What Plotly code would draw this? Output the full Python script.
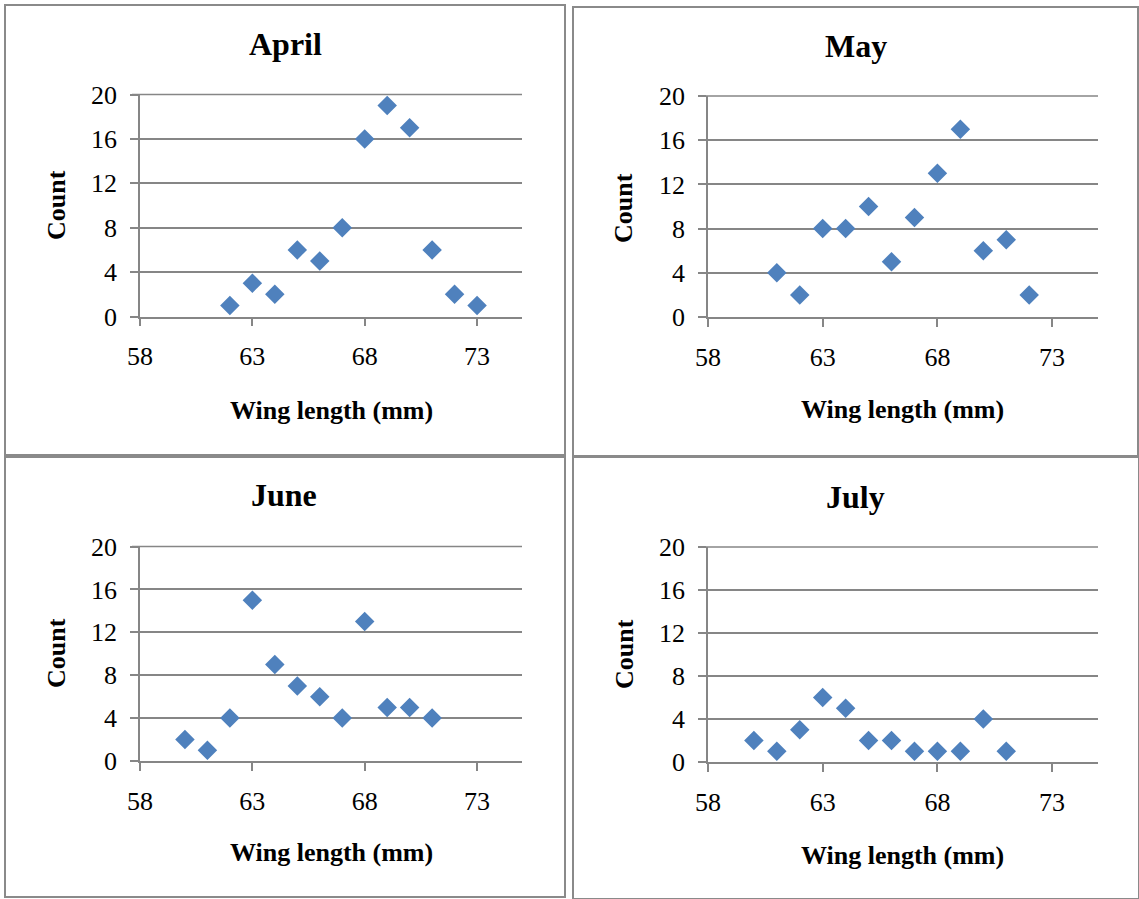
import plotly.graph_objects as go

# Wing length classes (mm) and bird counts per month
april_length = [62, 63, 64, 65, 66, 67, 68, 69, 70, 71, 72, 73]
april_count = [1, 3, 2, 6, 5, 8, 16, 19, 17, 6, 2, 1]

may_length = [61, 62, 63, 64, 65, 66, 67, 68, 69, 70, 71, 72]
may_count = [4, 2, 8, 8, 10, 5, 9, 13, 17, 6, 7, 2]

june_length = [60, 61, 62, 63, 64, 65, 66, 67, 68, 69, 70, 71]
june_count = [2, 1, 4, 15, 9, 7, 6, 4, 13, 5, 5, 4]

july_length = [60, 61, 62, 63, 64, 65, 66, 67, 68, 69, 70, 71]
july_count = [2, 1, 3, 6, 5, 2, 2, 1, 1, 1, 4, 1]

months = ["April", "May", "June", "July"]
x_title = "Wing length (mm)"
y_title = "Count"

W, H = 1139, 899
FONT = "Liberation Serif"
GRID = "#868686"
BLUE = "#4F81BD"


def px(x):
    return x / W


def py(y):
    return 1 - y / H


# Pixel layout of each panel: plot box (left, right, top, bottom),
# frame box, title / axis-title centres
panel_geo = [
    dict(plot=(140, 522, 94.5, 316.5), frame=(5, 565, 5, 455),
         title=(285, 44), ytitle=(56, 205), xtitle=(331, 410)),
    dict(plot=(708, 1098, 96, 317), frame=(573, 1138, 7, 456),
         title=(856, 46), ytitle=(624, 208), xtitle=(902, 409)),
    dict(plot=(140, 522, 546.5, 761), frame=(5, 565, 457, 897),
         title=(284, 495), ytitle=(56, 653), xtitle=(331, 852)),
    dict(plot=(708, 1098, 547, 762), frame=(573, 1139, 457, 899),
         title=(855, 497), ytitle=(624, 654), xtitle=(902, 855)),
]

series = [
    (april_length, april_count),
    (may_length, may_count),
    (june_length, june_count),
    (july_length, july_count),
]

fig = go.Figure()
layout = dict(
    template="none",
    width=W, height=H, autosize=False,
    margin=dict(l=0, r=0, t=0, b=0, pad=0),
    paper_bgcolor="white", plot_bgcolor="white",
    showlegend=False,
    font=dict(family=FONT, color="black", size=26),
    annotations=[], shapes=[],
)

for i, (month, (xs, ys), g) in enumerate(zip(months, series, panel_geo)):
    n = "" if i == 0 else str(i + 1)
    fig.add_trace(go.Scatter(
        x=xs, y=ys, mode="markers",
        marker=dict(symbol="diamond", size=15, color=BLUE, line=dict(width=0)),
        xaxis="x" + n, yaxis="y" + n, cliponaxis=False,
    ))
    l, r, t, b = g["plot"]
    layout["xaxis" + n] = dict(
        domain=[px(l), px(r)], anchor="y" + n, automargin=False,
        range=[58, 75], tick0=58, dtick=5, tickmode="linear",
        showgrid=False, zeroline=False,
        showline=True, linecolor=GRID, linewidth=1.5,
        ticks="outside", ticklen=8, tickwidth=1.5, tickcolor=GRID,
        tickfont=dict(family=FONT, size=26, color="black"),
        ticklabelstandoff=8, fixedrange=True,
    )
    layout["yaxis" + n] = dict(
        domain=[py(b), py(t)], anchor="x" + n, automargin=False,
        range=[0, 20], tick0=0, dtick=4, tickmode="linear",
        showgrid=True, gridcolor=GRID, gridwidth=1.5, zeroline=False,
        showline=True, linecolor=GRID, linewidth=1.5,
        ticks="outside", ticklen=8, tickwidth=1.5, tickcolor=GRID,
        tickfont=dict(family=FONT, size=26, color="black"),
        ticklabelstandoff=8, fixedrange=True,
    )
    # gridline at the top of the value range
    layout["shapes"].append(dict(
        type="line", xref="paper", yref="paper",
        x0=px(l - 8), x1=px(r), y0=py(t), y1=py(t),
        line=dict(color=GRID, width=1.5),
    ))
    # panel frame
    fl, fr, ft, fb = g["frame"]
    layout["shapes"].append(dict(
        type="rect", xref="paper", yref="paper",
        x0=px(fl), x1=px(fr), y0=py(fb), y1=py(ft),
        line=dict(color="#8a8a8a", width=2), layer="below",
    ))
    tx, ty = g["title"]
    layout["annotations"].append(dict(
        text="<b>%s</b>" % month, x=px(tx), y=py(ty),
        xref="paper", yref="paper", showarrow=False,
        xanchor="center", yanchor="middle",
        font=dict(family=FONT, size=32, color="black"),
    ))
    ax_, ay_ = g["ytitle"]
    layout["annotations"].append(dict(
        text="<b>%s</b>" % y_title, x=px(ax_), y=py(ay_), textangle=-90,
        xref="paper", yref="paper", showarrow=False,
        xanchor="center", yanchor="middle",
        font=dict(family=FONT, size=26, color="black"),
    ))
    bx, by = g["xtitle"]
    layout["annotations"].append(dict(
        text="<b>%s</b>" % x_title, x=px(bx), y=py(by),
        xref="paper", yref="paper", showarrow=False,
        xanchor="center", yanchor="middle",
        font=dict(family=FONT, size=26, color="black"),
    ))

fig.update_layout(**layout)
fig.write_html("out.html")
